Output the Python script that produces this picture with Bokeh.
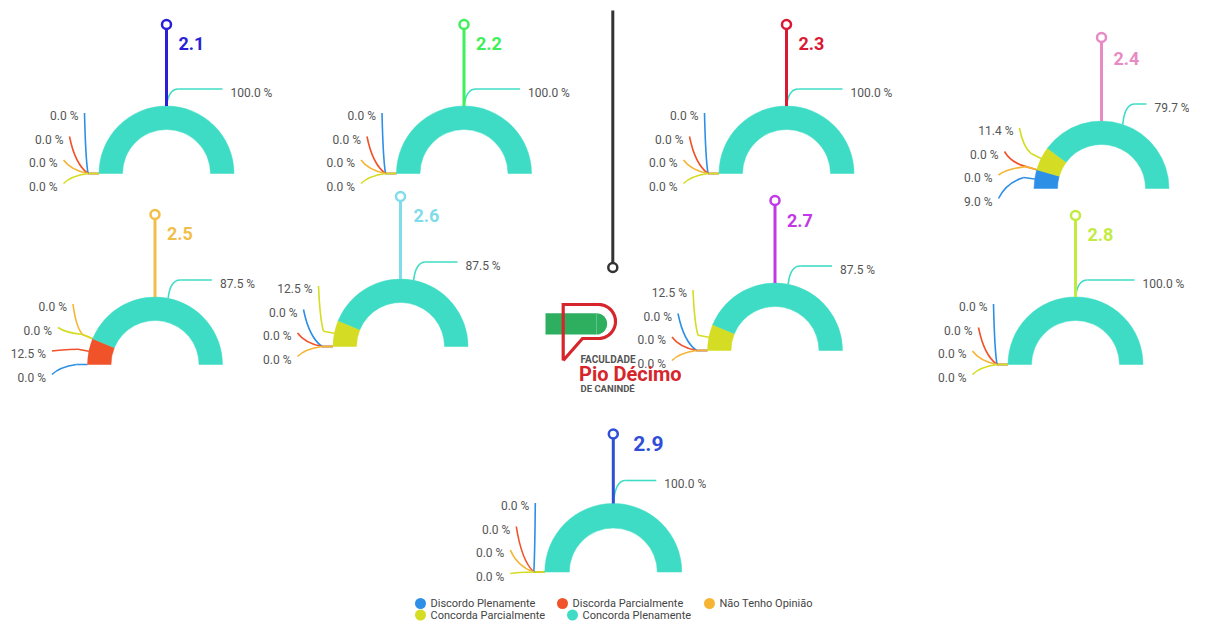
import math
from bokeh.plotting import figure
from bokeh.models import Range1d, ColumnDataSource
from bokeh.embed import file_html
from bokeh.resources import INLINE
from bokeh.core.properties import value

# ---------------- data ----------------
questions = ["2.1", "2.2", "2.3", "2.4", "2.5", "2.6", "2.7", "2.8", "2.9"]
categories = ["Discordo Plenamente", "Discorda Parcialmente", "Não Tenho Opinião",
              "Concorda Parcialmente", "Concorda Plenamente"]
discordo_plenamente   = [0.0, 0.0, 0.0, 9.0, 0.0, 0.0, 0.0, 0.0, 0.0]
discorda_parcialmente = [0.0, 0.0, 0.0, 0.0, 12.5, 0.0, 0.0, 0.0, 0.0]
nao_tenho_opiniao     = [0.0, 0.0, 0.0, 0.0, 0.0, 0.0, 0.0, 0.0, 0.0]
concorda_parcialmente = [0.0, 0.0, 0.0, 11.4, 0.0, 12.5, 12.5, 0.0, 0.0]
concorda_plenamente   = [100.0, 100.0, 100.0, 79.7, 87.5, 87.5, 87.5, 100.0, 100.0]
series = [discordo_plenamente, discorda_parcialmente, nao_tenho_opiniao,
          concorda_parcialmente, concorda_plenamente]

# ---------------- styles / layout ----------------
cat_colors = ["#2E8FE6", "#F0522A", "#F5B533", "#D4DC23", "#3FDCC5"]
q_colors = ["#2A1FD6", "#3DF05A", "#D81A35", "#E88BC4", "#F2BE4A",
            "#7FDCEB", "#C238E6", "#C2EB3F", "#2E4FD6"]
# cx, cy (image px), outer r, stem length, title dx, title dy, title size,
# right label dx, dy, left rows shift, left label order
layout = [
    (166.0, 173.0, 67.5, 149, 12, 19, 18, 64, -81, 0, [0, 1, 2, 3]),
    (463.5, 173.0, 67.5, 149, 12, 19, 18, 64, -81, 0, [0, 1, 2, 3]),
    (786.0, 173.0, 67.5, 149, 12, 19, 18, 64, -81, 0, [0, 1, 2, 3]),
    (1101.0, 188.0, 67.5, 151, 12, 21, 18, 53, -81, 0, [3, 1, 2, 0]),
    (154.5, 364.0, 67.5, 150, 12, 19, 18, 65, -81, 0, [2, 3, 1, 0]),
    (400.0, 346.0, 67.5, 150, 13, 19, 18, 65, -81, 0, [3, 0, 1, 2]),
    (774.5, 350.0, 67.5, 150, 12, 20, 18, 65, -81, 0, [3, 0, 1, 2]),
    (1075.0, 364.0, 67.5, 149, 12, 19, 18, 67, -81, 0, [0, 1, 2, 3]),
    (612.8, 571.5, 68.5, 138, 20, 9, 21, 51, -88, -8.5, [0, 1, 2, 3]),
]
inner_r = 44.0
rows_dy = [-57.5, -34.0, -10.5, 13.0]
rows_dx = [-88.0, -103.0, -109.0, -109.0]

W, H = 1189, 623


def fy(y):
    return H - y


p = figure(width=W, height=H, output_backend="svg", toolbar_location=None,
           x_range=Range1d(0, W), y_range=Range1d(0, H), min_border=0)
p.axis.visible = False
p.grid.visible = False
p.outline_line_color = None
p.background_fill_color = "white"
p.border_fill_color = "white"

FONT = value("Roboto")
LABEL_COLOR = "#555555"

wedges = dict(x=[], y=[], r0=[], r1=[], a0=[], a1=[], c=[])
lines = dict(xs=[], ys=[], c=[])
quads = dict(x0=[], y0=[], x1=[], y1=[], cx=[], cy=[], c=[])
ltexts = dict(x=[], y=[], t=[])
rtexts = dict(x=[], y=[], t=[])

for g, q in enumerate(questions):
    cx, cy, r, stem, tdx, tdy, tsz, rdx, rdy, lshift, order = layout[g]
    vals = [s[g] for s in series]
    tot = sum(vals)
    cum = 0.0
    mids = []
    for k, v in enumerate(vals):
        a_start = math.pi - cum / tot * math.pi
        a_end = math.pi - (cum + v) / tot * math.pi
        if v > 0:
            wedges["x"].append(cx); wedges["y"].append(fy(cy))
            wedges["r0"].append(inner_r); wedges["r1"].append(r)
            wedges["a0"].append(a_end); wedges["a1"].append(a_start)
            wedges["c"].append(cat_colors[k])
        mids.append(math.pi - (cum + v / 2.0) / tot * math.pi)
        cum += v

    # left labels (first four categories)
    for i, k in enumerate(order):
        ly = cy + rows_dy[i] + lshift
        rx = cx + rows_dx[i] + (4 if (g == 8 and i == 0) else 0)
        ltexts["x"].append(rx); ltexts["y"].append(fy(ly))
        ltexts["t"].append("%.1f %%" % vals[k])
        th = mids[k]
        p0x, p0y = cx + r * math.cos(th), cy - r * math.sin(th)
        p1x, p1y = cx + (r + 11) * math.cos(th), cy - (r + 11) * math.sin(th)
        lx, lyy = rx + 6, ly - 3
        lines["xs"].append([p0x, p1x]); lines["ys"].append([fy(p0y), fy(p1y)])
        lines["c"].append(cat_colors[k])
        quads["x0"].append(lx); quads["y0"].append(fy(lyy))
        quads["x1"].append(p1x); quads["y1"].append(fy(p1y))
        quads["cx"].append(lx + (p1x - lx) * 0.3)
        quads["cy"].append(fy(lyy + (p1y - lyy) * 0.75))
        quads["c"].append(cat_colors[k])

    # right label (Concorda Plenamente)
    th = mids[4]
    p0x, p0y = cx + r * math.cos(th), cy - r * math.sin(th)
    yh = cy + rdy - 3.5
    mx = p0x + 12
    quads["x0"].append(p0x); quads["y0"].append(fy(p0y))
    quads["x1"].append(mx); quads["y1"].append(fy(yh))
    quads["cx"].append(p0x + 2); quads["cy"].append(fy(yh))
    quads["c"].append(cat_colors[4])
    lines["xs"].append([mx, max(mx + 4, cx + rdx - 8)]); lines["ys"].append([fy(yh), fy(yh)])
    lines["c"].append(cat_colors[4])
    rtexts["x"].append(cx + rdx); rtexts["y"].append(fy(cy + rdy))
    rtexts["t"].append("%.1f %%" % vals[4])

# leader lines
p.multi_line(xs="xs", ys="ys", line_color="c", line_width=1.6, source=ColumnDataSource(lines))
p.quadratic(x0="x0", y0="y0", x1="x1", y1="y1", cx="cx", cy="cy", line_color="c",
            line_width=1.6, source=ColumnDataSource(quads))

# gauges
p.annular_wedge(x="x", y="y", inner_radius="r0", outer_radius="r1", start_angle="a0",
                end_angle="a1", fill_color="c", line_color="c", line_width=0.5,
                direction="anticlock", source=ColumnDataSource(wedges))

# stems and titles
for g, q in enumerate(questions):
    cx, cy, r, stem, tdx, tdy, tsz, rdx, rdy, lshift, order = layout[g]
    top = cy - stem
    p.segment(x0=[cx], y0=[fy(cy - r)], x1=[cx], y1=[fy(top + 4)],
              line_color=q_colors[g], line_width=3)
    p.scatter(x=[cx], y=[fy(top)], size=9, marker="circle", fill_color="white",
              line_color=q_colors[g], line_width=2.5)
    p.text(x=[cx + tdx], y=[fy(top + tdy)], text=[q], text_font=FONT,
           text_font_style="bold", text_font_size="%dpx" % tsz,
           text_color=q_colors[g], text_baseline="middle", text_align="left")

p.text(x="x", y="y", text="t", source=ColumnDataSource(ltexts), text_font=FONT,
       text_font_size="12px", text_color=LABEL_COLOR, text_baseline="middle",
       text_align="right")
p.text(x="x", y="y", text="t", source=ColumnDataSource(rtexts), text_font=FONT,
       text_font_size="12px", text_color=LABEL_COLOR, text_baseline="middle",
       text_align="left")

# center divider
p.segment(x0=[612.3], y0=[fy(10)], x1=[612.3], y1=[fy(262.5)], line_color="#333333", line_width=3)
p.scatter(x=[612.3], y=[fy(267)], size=9, marker="circle", fill_color="white",
          line_color="#333333", line_width=2.5)

# logo
green = "#2DAF5F"
red = "#D7262B"
p.quad(left=[545], right=[596], top=[fy(312.7)], bottom=[fy(334)], fill_color=green, line_color=None)
p.wedge(x=[596], y=[fy(323.35)], radius=10.65, start_angle=-math.pi / 2, end_angle=math.pi / 2,
        fill_color=green, line_color=None)
arc_t = [math.pi / 2 - i * math.pi / 24 for i in range(25)]
px = [562.7, 562.7, 598.0] + [598.0 + 17 * math.cos(t) for t in arc_t] + [582.0, 562.7]
py = [360.0, 304.0, 304.0] + [321.0 - 17 * math.sin(t) for t in arc_t] + [338.0, 360.0]
p.line(x=px, y=[fy(v) for v in py], line_color=red, line_width=3.2, line_join="miter")
p.text(x=[580], y=[fy(358.5)], text=["FACULDADE"], text_font=FONT, text_font_style="bold",
       text_font_size="10px", text_color="#555555", text_baseline="middle")
p.text(x=[578.5], y=[fy(373)], text=["Pio Décimo"], text_font=FONT, text_font_style="bold",
       text_font_size="20px", text_color=red, text_baseline="middle")
p.text(x=[580], y=[fy(388)], text=["DE CANINDÉ"], text_font=FONT, text_font_style="bold",
       text_font_size="9.5px", text_color="#555555", text_baseline="middle")

# legend
leg_x = [420, 562, 709, 420, 572]
leg_y = [603, 603, 603, 614.5, 614.5]
p.scatter(x=leg_x, y=[fy(v) for v in leg_y], size=11, marker="circle",
          fill_color=cat_colors, line_color=None)
p.text(x=[v + 10 for v in leg_x], y=[fy(v) for v in leg_y], text=categories, text_font=FONT,
       text_font_size="11px", text_color="#444444", text_baseline="middle", text_align="left")

open("out.html", "w").write(file_html(p, INLINE))
